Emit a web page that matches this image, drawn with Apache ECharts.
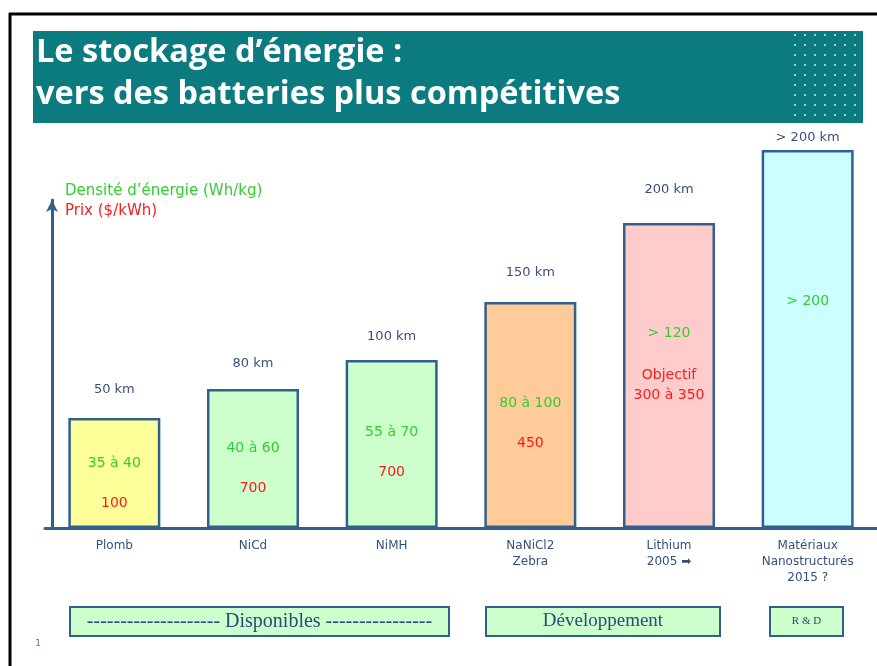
<!DOCTYPE html>
<html>
<head>
<meta charset="utf-8">
<script src="https://cdn.jsdelivr.net/npm/echarts@6/dist/echarts.min.js"></script>
<style>
  html, body { margin: 0; padding: 0; background: #fff; }
  #main { width: 877px; height: 666px; }
</style>
</head>
<body>
<div id="main"></div>
<script>
  // technologies de batteries
  const categories = ['Plomb', 'NiCd', 'NiMH', 'NaNiCl2\nZebra', 'Lithium\n2005 ➡', 'Matériaux\nNanostructurés\n2015 ?']
  // hauteur schématique des barres (autonomie relative)
  const hauteurs = [110, 139, 168, 226, 305, 378]
  const autonomie = ['50 km', '80 km', '100 km', '150 km', '200 km', '> 200 km']
  const densite = ['35 à 40', '40 à 60', '55 à 70', '80 à 100', '> 120', '> 200']
  const prix = ['100', '700', '700', '450', 'Objectif\n300 à 350', '']
  const couleurs = ['#ffff99', '#ccffcc', '#ccffcc', '#ffcc99', '#ffcccc', '#ccffff']

  // réglages d'affichage des étiquettes
  const ecartKm = [22, 19, 17, 23, 27, 6]
  const decalage = [10, 9.5, 8.5, 8, -22.5, -38]

  const bleu = '#31608f'
  const vert = '#33cc33'
  const rouge = '#ff1a1a'

  var chartDom = document.getElementById('main')
  var myChart = echarts.init(chartDom)

  // motif de points du bandeau
  var motif = document.createElement('canvas')
  motif.width = 10
  motif.height = 10
  var ctx = motif.getContext('2d')
  ctx.fillStyle = '#0b7b7f'
  ctx.fillRect(0, 0, 10, 10)
  ctx.fillStyle = 'rgba(170,225,225,0.85)'
  ctx.fillRect(4, 4, 2, 2)

  function boite(x, w, texte, taille) {
    return {
      type: 'group',
      children: [
        {
          type: 'rect',
          shape: { x: x, y: 607, width: w, height: 29 },
          style: { fill: '#ccffcc', stroke: bleu, lineWidth: 2 }
        },
        {
          type: 'text',
          x: x + w / 2,
          y: 621.5,
          style: {
            text: texte, fill: '#2c4a7c', font: taille + 'px "Liberation Serif"',
            align: 'center', verticalAlign: 'middle'
          }
        }
      ]
    }
  }

  var option = {
    animation: false,
    title: {
      text: 'Le stockage d’énergie :\nvers des batteries plus compétitives',
      left: 36,
      top: 32,
      padding: 0,
      textStyle: {
        color: '#fff', fontSize: 32.5, fontWeight: 'bold', fontFamily: 'Open Sans', lineHeight: 42
      }
    },
    graphic: [
      { type: 'rect', z: -10, shape: { x: 33, y: 31, width: 830, height: 92 }, style: { fill: '#0b7b7f' } },
      { type: 'rect', z: -9, shape: { x: 793, y: 33, width: 68, height: 88 }, style: { fill: { image: motif, repeat: 'repeat' } } },
      { type: 'line', shape: { x1: 9, y1: 14, x2: 877, y2: 14 }, style: { stroke: '#000', lineWidth: 3 } },
      { type: 'line', shape: { x1: 10, y1: 13, x2: 10, y2: 666 }, style: { stroke: '#000', lineWidth: 3 } },
      boite(70, 379, '-------------------- Disponibles ----------------', 20),
      boite(486, 234, 'Développement', 19),
      boite(770, 73, 'R & D', 11),
      {
        type: 'text', x: 38, y: 644,
        style: { text: '1', fill: '#8a5a8a', font: '9px "DejaVu Sans"', align: 'center', verticalAlign: 'middle' }
      }
    ],
    grid: [
      { left: 45, right: 0, top: 150, bottom: 138 },
      { left: 52, right: 824, top: 200, bottom: 138 }
    ],
    xAxis: [
      {
        type: 'category',
        gridIndex: 0,
        data: categories,
        axisLine: { lineStyle: { color: bleu, width: 3 } },
        axisTick: { show: false },
        axisLabel: {
          color: '#34507f', fontSize: 12, fontFamily: 'DejaVu Sans', margin: 10, lineHeight: 16
        }
      },
      { type: 'category', gridIndex: 1, data: [''], show: false }
    ],
    yAxis: [
      {
        type: 'value', gridIndex: 0, min: 0, max: 378, show: false
      },
      {
        type: 'value',
        gridIndex: 1,
        min: 0,
        max: 1,
        axisLine: { show: true, symbol: ['none', 'arrow'], symbolSize: [9, 12], lineStyle: { color: bleu, width: 3 } },
        axisTick: { show: false },
        axisLabel: { show: false },
        splitLine: { show: false },
        name: '{g|Densité d’énergie (Wh/kg)}\n{r|Prix ($/kWh)}',
        nameLocation: 'end',
        nameGap: -1,
        nameTextStyle: {
          align: 'left',
          verticalAlign: 'middle',
          padding: [0, 0, 0, 13],
          rich: {
            g: { color: vert, fontSize: 15, fontFamily: 'DejaVu Sans', lineHeight: 20 },
            r: { color: rouge, fontSize: 15, fontFamily: 'DejaVu Sans', lineHeight: 20 }
          }
        }
      }
    ],
    series: [
      {
        name: 'Autonomie',
        type: 'bar',
        xAxisIndex: 0,
        yAxisIndex: 0,
        barWidth: 92,
        data: hauteurs.map(function (h, i) {
          return {
            value: h,
            itemStyle: { color: couleurs[i] },
            label: { distance: ecartKm[i] }
          }
        }),
        itemStyle: { borderColor: bleu, borderWidth: 2.5 },
        label: {
          show: true,
          position: 'top',
          color: '#3b4f7d',
          fontSize: 13,
          fontFamily: 'DejaVu Sans',
          formatter: function (p) { return autonomie[p.dataIndex] }
        }
      },
      {
        name: 'Densité / Prix',
        type: 'bar',
        xAxisIndex: 0,
        yAxisIndex: 0,
        barWidth: 92,
        barGap: '-100%',
        silent: true,
        itemStyle: { color: 'rgba(0,0,0,0)' },
        data: hauteurs.map(function (h, i) {
          return { value: h, label: { offset: [0, decalage[i]] } }
        }),
        label: {
          show: true,
          position: 'inside',
          formatter: function (p) {
            var i = p.dataIndex
            if (!prix[i]) return '{g|' + densite[i] + '}'
            if (prix[i].indexOf('\n') >= 0) {
              return '{gg|' + densite[i] + '}\n' + prix[i].split('\n').map(function (s) { return '{r2|' + s + '}' }).join('\n')
            }
            return '{g|' + densite[i] + '}\n{r|' + prix[i] + '}'
          },
          rich: {
            g: { color: vert, fontSize: 14, fontFamily: 'DejaVu Sans', lineHeight: 40 },
            gg: { color: vert, fontSize: 14, fontFamily: 'DejaVu Sans', lineHeight: 64 },
            r: { color: rouge, fontSize: 14, fontFamily: 'DejaVu Sans', lineHeight: 40 },
            r2: { color: rouge, fontSize: 14, fontFamily: 'DejaVu Sans', lineHeight: 20 }
          }
        }
      }
    ]
  }

  option && myChart.setOption(option)
</script>
</body>
</html>
